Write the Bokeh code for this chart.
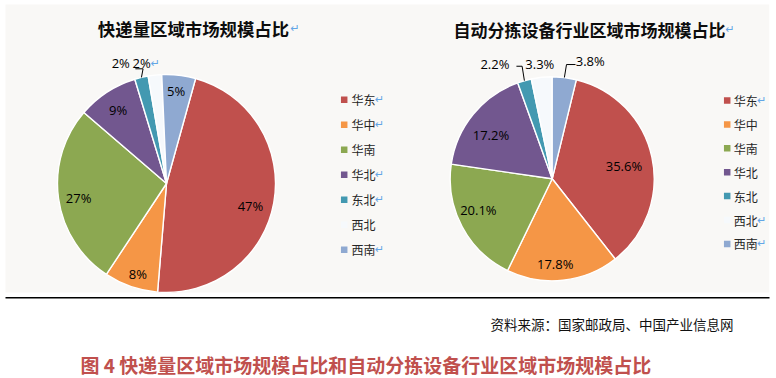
import math
from bokeh.plotting import figure
from bokeh.models import Range1d, ColumnDataSource
from bokeh.core.properties import value
from bokeh.embed import file_html
from bokeh.resources import INLINE

# ---------------- data ----------------
regions = ["华东", "华中", "华南", "华北", "东北", "西北", "西南"]
express_share = [47, 8, 27, 9, 2, 2, 5]
sorter_share = [35.6, 17.8, 20.1, 17.2, 2.2, 3.3, 3.8]
colors = ["#C0504D", "#F59646", "#8CA851", "#72578F", "#4399B1", "#F6F9FC", "#8FA9D1"]
left_title = "快递量区域市场规模占比"
right_title = "自动分拣设备行业区域市场规模占比"
source_note = "资料来源：国家邮政局、中国产业信息网"
caption = "图 4 快递量区域市场规模占比和自动分拣设备行业区域市场规模占比"
left_legend_marks = [True, True, False, True, True, False, True]
right_legend_marks = [True, False, False, False, False, True, True]

# ---------------- layout helpers (page px -> data) ----------------
W, H = 776, 378


def X(px):
    return px


def Y(py):
    return H - py


CJK = value("Noto Sans CJK SC")
NUM = value("Open Sans")
ARROW = value("DejaVu Sans")
ARROW_COLOR = "#63A6E6"

p = figure(width=W, height=H, x_range=Range1d(0, W), y_range=Range1d(0, H),
           output_backend="svg", toolbar_location=None, min_border=0,
           x_axis_type=None, y_axis_type=None)
p.grid.visible = False
p.outline_line_color = None
p.background_fill_color = "white"
p.border_fill_color = "white"

# panel background and rule
p.quad(left=X(5), right=X(768.7), top=Y(4), bottom=Y(292),
       fill_color="#F9F8F6", line_color=None)
p.segment(x0=X(5), y0=Y(297.3), x1=X(769), y1=Y(297.3), line_color="#000000", line_width=1.6)


def draw_pie(vals, cx, cy, r, start_deg, fmt, k, dx, dy, leaders, arrows_after):
    total = sum(vals)
    acc = start_deg
    starts, ends, mids = [], [], []
    for v in vals:
        a0 = acc
        a1 = acc + v / total * 360.0
        acc = a1
        starts.append(math.radians(90 - a0))
        ends.append(math.radians(90 - a1))
        mids.append((a0 + a1) / 2.0)
    src = ColumnDataSource(dict(start=starts, end=ends, color=colors))
    p.wedge(x=X(cx), y=Y(cy), radius=r, start_angle="start", end_angle="end",
            direction="clock", fill_color="color", line_color="white",
            line_width=1.4, source=src)
    lx, ly, lt = [], [], []
    for i, v in enumerate(vals):
        m = math.radians(mids[i])
        px = cx + math.sin(m) * r * k[i] + dx[i]
        py = cy - math.cos(m) * r * k[i] + dy[i]
        lx.append(X(px))
        ly.append(Y(py))
        lt.append(fmt(v))
        if i in leaders:
            ex_, end_, yy = leaders[i]
            ex = cx + math.sin(m) * r
            ey = cy - math.cos(m) * r
            p.line(x=[X(ex), X(px + ex_), X(px + end_)],
                   y=[Y(ey), Y(py + yy), Y(py + yy)],
                   line_color="#000000", line_width=1)
        if i in arrows_after:
            p.text(x=[X(px + arrows_after[i])], y=[Y(py)], text=["↵"],
                   text_font=ARROW, text_font_size="11px", text_color=ARROW_COLOR,
                   text_align="left", text_baseline="middle")
    p.text(x=lx, y=ly, text=lt, text_font=NUM, text_font_size="13px",
           text_color="#000000", text_align="center", text_baseline="middle")


# left pie
draw_pie(express_share, 166, 183, 109, 15.5, lambda v: f"{v:g}%",
         k=[0.82, 0.86, 0.82, 0.82, 1.15, 1.15, 0.84],
         dx=[-4, 2, 0.6, 0.5, 4, -32.4, -0.8],
         dy=[6.6, 2, 2.7, 0.9, 1.5, 4.1, -1.9],
         leaders={4: (1.4, -6.3, 5.8)},
         arrows_after={4: 9})

# right pie
draw_pie(sorter_share, 551.7, 178.3, 102, 13.7, lambda v: f"{v:.1f}%",
         k=[0.73, 0.83, 0.78, 0.75, 1.15, 1.15, 1.15],
         dx=[-1, -6, -3.5, -2, -25.3, -0.3, 24],
         dy=[3, 1, -6, 4.7, -2.1, 1.7, -1.8],
         leaders={4: (27.2, 21.5, 2.4), 6: (-23.7, -14.7, 4)},
         arrows_after={})

# titles
p.text(x=[X(193)], y=[Y(27.5)], text=[left_title], text_font=CJK, text_font_size="17.4px",
       text_font_style="bold", text_color="#0D0D0D", text_align="center", text_baseline="middle")
p.text(x=[X(589)], y=[Y(29)], text=[right_title], text_font=CJK, text_font_size="17px",
       text_font_style="bold", text_color="#0D0D0D", text_align="center", text_baseline="middle")
p.text(x=[X(290), X(725)], y=[Y(27.5), Y(29)], text=["↵", "↵"], text_font=ARROW,
       text_font_size="11px", text_color=ARROW_COLOR, text_align="left", text_baseline="middle")


# legends
def draw_legend(sq_x, txt_x, y0, step, marks):
    ys = [Y(y0 + i * step) for i in range(len(regions))]
    p.rect(x=[X(sq_x)] * len(regions), y=ys, width=6.5, height=6.5,
           fill_color=colors, line_color=None)
    p.text(x=[X(txt_x)] * len(regions), y=ys, text=regions, text_font=CJK,
           text_font_size="12px", text_color="#262626", text_align="left",
           text_baseline="middle")
    ax = [X(txt_x + 23.5) for i, m in enumerate(marks) if m]
    ay = [ys[i] for i, m in enumerate(marks) if m]
    p.text(x=ax, y=ay, text=["↵"] * len(ax), text_font=ARROW, text_font_size="11px",
           text_color=ARROW_COLOR, text_align="left", text_baseline="middle")


draw_legend(343.7, 351, 99.3, 25.0, left_legend_marks)
draw_legend(726.7, 733.3, 100, 23.9, right_legend_marks)

# source note and caption
p.text(x=[X(733)], y=[Y(323)], text=[source_note], text_font=CJK, text_font_size="13.5px",
       text_color="#111111", text_align="right", text_baseline="middle")
p.text(x=[X(80)], y=[Y(364)], text=[caption], text_font=CJK, text_font_size="19px",
       text_font_style="bold", text_color="#C0504D", text_align="left", text_baseline="middle")

open("out.html", "w").write(file_html(p, INLINE))
